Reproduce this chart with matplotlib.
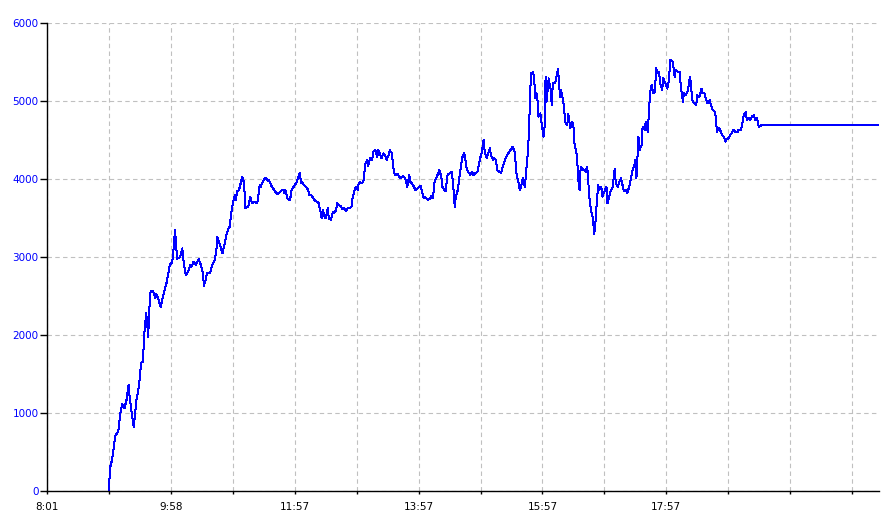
import matplotlib
matplotlib.use('Agg')
import matplotlib.pyplot as plt

# minutes after 8:01 and the value read at that moment
minutes = [60, 61, 63, 64, 66, 69, 71, 73, 75, 77, 79, 80, 82, 84, 85, 87, 88, 90, 91, 93,
           94, 96, 97, 98, 99, 100, 101, 103, 105, 106, 108, 110, 112, 114, 116, 118, 119, 121, 122, 124,
           125, 126, 129, 131, 132, 134, 135, 137, 139, 140, 142, 144, 147, 149, 151, 152, 154, 155, 158, 160,
           162, 164, 165, 167, 169, 170, 172, 174, 176, 177, 178, 180, 181, 182, 183, 184, 186, 188, 189, 190,
           191, 192, 194, 195, 197, 198, 199, 201, 203, 204, 206, 207, 209, 211, 212, 214, 215, 217, 219, 221,
           223, 224, 226, 227, 229, 230, 231, 233, 235, 236, 237, 239, 240, 242, 244, 245, 246, 247, 249, 251,
           253, 254, 256, 258, 259, 261, 263, 265, 266, 267, 269, 270, 272, 273, 275, 277, 278, 280, 281, 283,
           285, 286, 288, 290, 291, 293, 295, 296, 298, 299, 301, 302, 303, 305, 307, 308, 310, 311, 313, 315,
           316, 318, 320, 321, 323, 324, 326, 328, 329, 331, 332, 334, 336, 337, 340, 341, 342, 345, 347, 349,
           351, 352, 354, 357, 359, 362, 363, 365, 366, 369, 371, 372, 374, 375, 377, 379, 380, 382, 383, 384,
           386, 387, 388, 390, 392, 393, 394, 395, 396, 398, 399, 400, 401, 402, 404, 405, 406, 407, 408, 410,
           412, 413, 415, 417, 418, 420, 421, 423, 424, 426, 427, 429, 430, 432, 433, 435, 436, 438, 440, 441,
           443, 445, 446, 448, 449, 451, 453, 454, 455, 457, 458, 459, 461, 463, 464, 466, 467, 468, 469, 471,
           472, 473, 474, 475, 476, 478, 479, 481, 482, 483, 484, 486, 488, 489, 490, 492, 493, 495, 496, 497,
           498, 500, 501, 502, 504, 505, 507, 509, 510, 511, 513, 514, 515, 516, 517, 518, 520, 522, 523, 524,
           525, 527, 529, 530, 531, 532, 533, 534, 535, 537, 538, 540, 542, 543, 545, 546, 548, 550, 551, 553,
           554, 556, 558, 559, 561, 562, 564, 566, 567, 569, 570, 571, 572, 573, 574, 576, 577, 579, 580, 582,
           583, 584, 585, 586, 587, 589, 590, 592, 593, 594, 596, 597, 599, 601, 602, 604, 606, 607, 608, 609,
           611, 613, 614, 615, 616, 617, 619, 621, 622, 623, 624, 625, 627, 629, 630, 632, 634, 635, 637, 638,
           640, 642, 643, 645, 647, 648, 649, 651, 652, 654, 656, 657, 659, 660, 662, 664, 665, 667, 669, 670,
           672, 673, 675, 677, 678, 680, 681, 683, 685, 686, 688, 689, 690, 692, 805]
values = [0, 295, 400, 487, 705, 760, 1000, 1115, 1060, 1167, 1360, 1210, 1000, 820, 955, 1210, 1255, 1465, 1640, 1660,
          1980, 2280, 2150, 1980, 2300, 2535, 2570, 2555, 2470, 2525, 2450, 2360, 2470, 2580, 2680, 2830, 2900, 2930, 3000, 3345,
          3175, 2980, 3000, 3110, 2980, 2790, 2770, 2830, 2900, 2875, 2940, 2900, 2970, 2900, 2790, 2630, 2725, 2800, 2790, 2900,
          2940, 3070, 3260, 3175, 3090, 3050, 3165, 3300, 3370, 3390, 3515, 3690, 3750, 3795, 3730, 3840, 3860, 3965, 4030, 3990,
          3945, 3625, 3645, 3645, 3775, 3710, 3690, 3710, 3690, 3710, 3920, 3900, 3965, 4010, 4010, 3980, 3990, 3920, 3880, 3840,
          3810, 3810, 3840, 3850, 3860, 3815, 3860, 3750, 3730, 3775, 3860, 3900, 3920, 3965, 4050, 4075, 3945, 3965, 3920, 3900,
          3860, 3795, 3795, 3750, 3730, 3710, 3695, 3580, 3495, 3600, 3515, 3495, 3625, 3495, 3475, 3580, 3560, 3600, 3690, 3665,
          3645, 3610, 3625, 3590, 3625, 3625, 3645, 3750, 3860, 3900, 3860, 3945, 3965, 3945, 3990, 4180, 4245, 4160, 4265, 4245,
          4350, 4370, 4285, 4370, 4310, 4265, 4330, 4285, 4245, 4310, 4370, 4330, 4095, 4050, 4065, 4030, 4010, 4040, 4010, 3900,
          4050, 3965, 3935, 3860, 3880, 3910, 3860, 3750, 3775, 3730, 3750, 3780, 3750, 3945, 4010, 4075, 4115, 4030, 3900, 3880,
          3840, 3945, 4050, 4075, 4095, 3990, 3840, 3645, 3775, 3860, 3965, 4075, 4160, 4265, 4330, 4285, 4160, 4115, 4095, 4050,
          4095, 4050, 4075, 4095, 4160, 4285, 4330, 4500, 4350, 4265, 4310, 4395, 4310, 4245, 4265, 4245, 4115, 4095, 4080, 4135,
          4220, 4285, 4310, 4350, 4370, 4415, 4350, 4200, 4050, 3945, 3860, 3880, 4010, 3900, 4075, 4370, 4630, 5100, 5355, 5375,
          5270, 5035, 5100, 5055, 4800, 4840, 4735, 4540, 4670, 5311, 4990, 5290, 5140, 4950, 5225, 5225, 5270, 5405, 5245, 5055,
          5140, 5010, 4885, 4735, 4690, 4840, 4650, 4735, 4670, 4455, 4330, 4160, 3945, 3860, 4160, 4135, 4115, 4095, 4160, 4075,
          3815, 3600, 3495, 3295, 3390, 3580, 3775, 3920, 3860, 3900, 3775, 3840, 3900, 3690, 3795, 3840, 3900, 4135, 3945, 3900,
          3945, 4010, 3900, 3840, 3860, 3815, 3900, 4030, 4095, 4180, 4245, 4010, 4285, 4540, 4370, 4435, 4670, 4630, 4735, 4605,
          4840, 5050, 5185, 5205, 5100, 5120, 5420, 5355, 5375, 5225, 5140, 5290, 5225, 5160, 5225, 5525, 5505, 5420, 5310, 5395,
          5375, 5375, 5185, 5100, 4990, 5100, 5075, 5140, 5245, 5310, 5185, 5010, 4970, 4950, 5075, 5055, 5160, 5100, 5100, 5035,
          4970, 5010, 4950, 4885, 4860, 4780, 4605, 4650, 4630, 4565, 4540, 4480, 4520, 4510, 4565, 4605, 4630, 4605, 4605, 4630,
          4630, 4670, 4820, 4860, 4755, 4780, 4755, 4800, 4820, 4755, 4780, 4690, 4670, 4690, 4690]

tick_minutes = [0, 60, 120, 180, 240, 300, 360, 420, 480, 540, 600, 660, 720, 780]
tick_labels = ['8:01', '', '9:58', '', '11:57', '', '13:57', '', '15:57', '', '17:57', '', '', '']
y_ticks = [0, 1000, 2000, 3000, 4000, 5000, 6000]

fig = plt.figure(figsize=(8.94, 5.31), dpi=100)
ax = fig.add_axes([0.0526, 0.0753, 0.9306, 0.8814])

ax.plot(minutes, values, color='#0000ff', linewidth=0.72, antialiased=False)

ax.set_xlim(0, 806)
ax.set_ylim(0, 6000)
ax.set_xticks(tick_minutes)
ax.set_xticklabels(tick_labels)
ax.set_yticks(y_ticks)

ax.grid(True, color='#c0c0c0', linestyle=(0, (4, 3)), linewidth=0.8)
ax.set_axisbelow(True)

for side in ['top', 'right']:
    ax.spines[side].set_visible(False)
for side in ['left', 'bottom']:
    ax.spines[side].set_linewidth(1.0)
    ax.spines[side].set_color('black')

ax.tick_params(axis='y', colors='black', labelcolor='#0000ff', labelsize=7.5, length=5, width=1, pad=1)
ax.tick_params(axis='x', colors='black', labelsize=7.5, length=2.5, width=1, pad=5.5)

fig.savefig('out.png', dpi=100)
